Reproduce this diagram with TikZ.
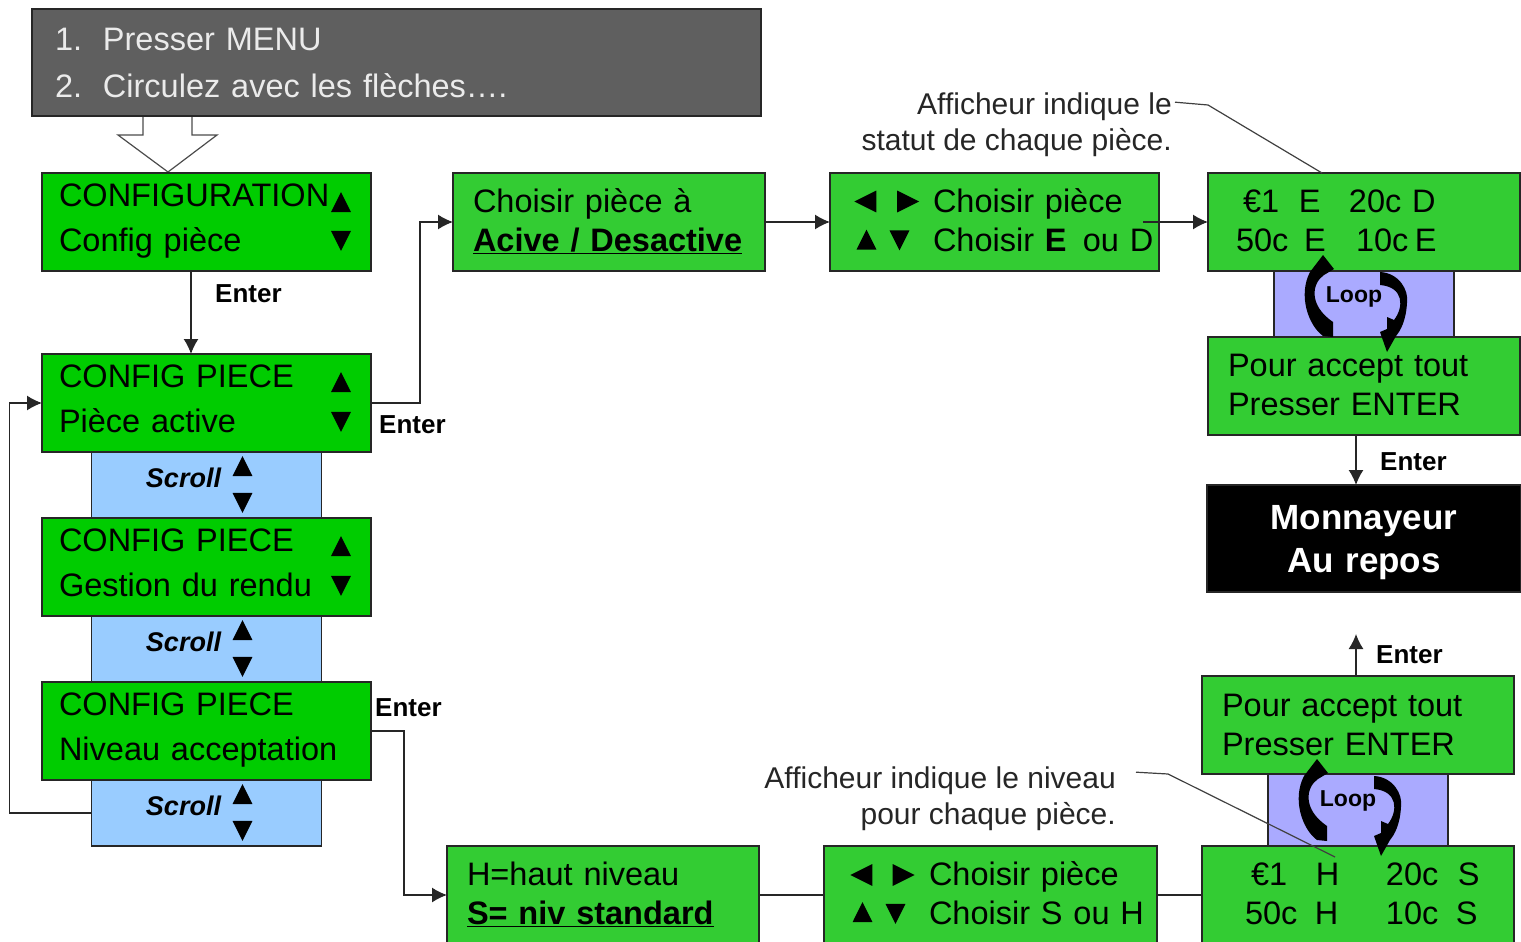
\documentclass[tikz,border=0pt]{standalone}
\usepackage{fontspec}
\setmainfont{Liberation Sans}
\usepackage{tikz}
\usetikzlibrary{arrows.meta,shapes.geometric,positioning}
\definecolor{menugray}{HTML}{5F5F5F}
\definecolor{lcdbright}{HTML}{00CC00}
\definecolor{lcdgreen}{HTML}{33CC33}
\definecolor{scrollblue}{HTML}{99CCFF}
\definecolor{loopblue}{HTML}{AAAAFF}
\newcommand{\lcdat}[2]{\leavevmode\rlap{\hspace*{#1pt}#2}}
\tikzset{
  base/.style={line width=1.4pt, draw=black!85, outer sep=0pt, align=left},
  lcdrule/.style 2 args={execute at begin node={\rule{0pt}{#1pt}}, execute at end node={\rule[-#2pt]{0pt}{#2pt}}},
  lcdfont/.style={font=\fontsize{32.5}{39}\selectfont},
  lcd/.style={base, lcdfont, fill=lcdgreen, inner xsep=20pt, inner ysep=0pt, text width=272pt, minimum height=98pt, lcdrule={28}{8}},
  panel/.style={base, lcdfont, fill=lcdgreen, inner xsep=5pt, inner ysep=0pt, text width=319pt, minimum height=98pt, lcdrule={28}{8}},
  menubox/.style={base, lcdfont, font=\fontsize{32.5}{45}\selectfont, fill=lcdbright, inner xsep=17pt, inner ysep=0pt, text width=295pt, minimum height=98pt, lcdrule={25}{11}},
  startbox/.style={base, font=\fontsize{32.5}{47}\selectfont, text=white!92!black, fill=menugray, inner xsep=23pt, inner ysep=0pt, text width=683pt, minimum height=107pt, lcdrule={30}{7}},
  idlebox/.style={base, font=\fontsize{35}{43}\selectfont\bfseries, text=white, fill=black, align=center, inner xsep=0pt, inner ysep=0pt, text width=314pt, minimum height=107pt, lcdrule={32}{8}},
  scrollbox/.style={base, fill=scrollblue, minimum width=230pt, minimum height=66pt},
  loopbox/.style={base, fill=loopblue, minimum width=180pt},
  scrolltext/.style={font=\fontsize{27}{30}\selectfont\bfseries\itshape, inner sep=0pt},
  looptext/.style={font=\fontsize{23}{26}\selectfont\bfseries, inner sep=0pt},
  enterlabel/.style={font=\fontsize{26}{30}\selectfont\bfseries, inner sep=0pt, anchor=west},
  note/.style={font=\fontsize{30}{36}\selectfont, align=right, inner sep=0pt, text=black!85},
  tipmark/.style={isosceles triangle, isosceles triangle apex angle=53, fill=black, inner sep=0pt, minimum height=20pt},
  upmark/.style={tipmark, shape border rotate=90},
  downmark/.style={tipmark, shape border rotate=-90},
  leftmark/.style={tipmark, minimum height=22pt, shape border rotate=180},
  rightmark/.style={tipmark, minimum height=22pt, shape border rotate=0},
  wire/.style={-{Latex[length=15pt,width=15pt]}, line width=1.4pt, draw=black!85},
  plainwire/.style={line width=1.4pt, draw=black!85},
  leader/.style={line width=1.2pt, draw=black!75},
  hollow/.style={line width=1.2pt, draw=black!70, fill=white},
  pics/loopmark/.style={code={
    \fill (-31,-40) -- (-20,-26) -- (-30,-20) .. controls (-42,-12) and (-46,10) .. (-21,27) -- (-21,42) -- (-31,41) .. controls (-46,30) and (-56,0) .. (-44,-23) -- cycle;
    \fill (26,-23) .. controls (45,-22) and (55,-5) .. (53,8) .. controls (52,25) and (47,35) .. (42,41) -- (33,57) -- (26,37) -- (33,34) -- (33,22) -- (40,25) .. controls (50,12) and (50,-8) .. (26,-10) -- cycle;
    \node[looptext] (-label) at (0,2) {Loop};
  }}
}

\begin{document}
\begin{tikzpicture}[x=1pt, y=-1pt]
  \useasboundingbox (0,0) rectangle (1521,942);

  % big hollow arrow from the start box to the menu, under both boxes
  \draw[hollow] (143,116) -- (143,135) -- (118,135) -- (168,172) -- (217,135) -- (192,135) -- (192,116);

  \node[startbox] (start) at (396.5,62.5) {\lcdat{0}{1.}\lcdat{48}{Presser MENU}\\\lcdat{0}{2.}\lcdat{48}{Circulez avec les flèches….}};

  % left column
  \node[menubox] (config) at (206.5,222) {CONFIGURATION\\Config pièce};
  \node[menubox] (piece) at (206.5,403) {CONFIG PIECE\\Pièce active};
  \node[scrollbox, below=0pt of piece] (scrolla) {};
  \node[menubox, below=0pt of scrolla] (rendu) {CONFIG PIECE\\Gestion du rendu};
  \node[scrollbox, below=0pt of rendu] (scrollb) {};
  \node[menubox, below=0pt of scrollb] (niveau) {CONFIG PIECE\\Niveau acceptation};
  \node[scrollbox, below=0pt of niveau] (scrollc) {};

  \node[upmark] (configup) at ([xshift=134.5pt,yshift=16pt]config.center) {};
  \node[downmark] (configdown) at ([xshift=134.5pt,yshift=-15pt]config.center) {};
  \node[upmark] (pieceup) at ([xshift=134.5pt,yshift=17pt]piece.center) {};
  \node[downmark] (piecedown) at ([xshift=134.5pt,yshift=-15pt]piece.center) {};
  \node[upmark] (renduup) at ([xshift=134.5pt,yshift=17pt]rendu.center) {};
  \node[downmark] (rendudown) at ([xshift=134.5pt,yshift=-15pt]rendu.center) {};

  \node[scrolltext] (scrollatext) at ([xshift=-23pt,yshift=7pt]scrolla.center) {Scroll};
  \node[upmark] (scrollaup) at ([xshift=36pt,yshift=15pt]scrolla.center) {};
  \node[downmark] (scrolladown) at ([xshift=36pt,yshift=-14pt]scrolla.center) {};
  \node[scrolltext] (scrollbtext) at ([xshift=-23pt,yshift=7pt]scrollb.center) {Scroll};
  \node[upmark] (scrollbup) at ([xshift=36pt,yshift=15pt]scrollb.center) {};
  \node[downmark] (scrollbdown) at ([xshift=36pt,yshift=-14pt]scrollb.center) {};
  \node[scrolltext] (scrollctext) at ([xshift=-23pt,yshift=7pt]scrollc.center) {Scroll};
  \node[upmark] (scrollcup) at ([xshift=36pt,yshift=15pt]scrollc.center) {};
  \node[downmark] (scrollcdown) at ([xshift=36pt,yshift=-14pt]scrollc.center) {};

  % top row
  \node[lcd] (choix) at (609,222) {Choisir pièce à\\\textbf{\underline{Acive / Desactive}}};
  \node[panel] (select) at (994.5,222) {\lcdat{98}{Choisir pièce}\\\lcdat{98}{Choisir \textbf{E}\, ou D}};
  \node[lcd] (status) at (1364,222) {\lcdat{15}{€1}\lcdat{71}{E}\lcdat{121}{20c D}\\\lcdat{8}{50c}\lcdat{76}{E}\lcdat{128}{10c}\lcdat{187}{E}};
  \node[loopbox, minimum height=66pt, below=0pt of status] (loopa) {};
  \node[lcd, below=0pt of loopa] (accept) {Pour accept tout\\Presser ENTER};
  \node[idlebox, below=50pt of accept] (idle) {Monnayeur\\Au repos};
  \pic (looptop) at (1354,295) {loopmark};

  \node[leftmark] (selectleft) at (869.5,201.5) {};
  \node[rightmark] (selectright) at (904,201.5) {};
  \node[upmark] (selectup) at (866.5,243.5) {};
  \node[downmark] (selectdown) at (899.5,236.5) {};

  % bottom row
  \node[lcd] (niveaux) at (603,895) {H=haut niveau\\\textbf{\underline{S= niv standard}}};
  \node[panel, text width=323pt] (selectb) at (990.5,895) {\lcdat{100}{Choisir pièce}\\\lcdat{100}{Choisir S ou H}};
  \node[lcd] (statusb) at (1358,895) {\lcdat{29}{€1}\lcdat{94}{H}\lcdat{164}{20c}\lcdat{236}{S}\\\lcdat{23}{50c}\lcdat{93}{H}\lcdat{164}{10c}\lcdat{234}{S}};
  \node[loopbox, minimum height=72pt, above=0pt of statusb] (loopb) {};
  \node[lcd, lcdrule={30}{6}, above=0pt of loopb] (acceptb) {Pour accept tout\\Presser ENTER};
  \pic (loopbottom) at (1348,799) {loopmark};

  \node[leftmark] (selectbleft) at (865.5,875) {};
  \node[rightmark] (selectbright) at (899.5,875) {};
  \node[upmark] (selectbup) at (862.5,916) {};
  \node[downmark] (selectbdown) at (895.5,910) {};

  % notes
  \node[note, anchor=north east] (notetop) at (1172,93) {Afficheur indique le\\statut de chaque pièce.};
  \node[note, anchor=north east] (notebottom) at (1116,766.5) {Afficheur indique le niveau\\pour chaque pièce.};
  \coordinate (kneetop) at (1208,105);
  \coordinate (kneebottom) at (1168,774);
  \coordinate (outb) at (1356,634);
  \draw[leader] ([xshift=3pt,yshift=23pt]notetop.east) -- (kneetop) -- ([xshift=-42pt]status.north);
  \draw[leader] ([xshift=20pt,yshift=26.5pt]notebottom.east) -- (kneebottom) -- ([xshift=-23pt,yshift=-11pt]statusb.north);

  % connectors
  \draw[wire] ([xshift=-15.5pt]config.south) -- ([xshift=-15.5pt]piece.north);
  \draw[wire] (piece.east) -- ++(49,0) |- (choix.west);
  \draw[wire] (choix.east) -- (select.west);
  \draw[wire] ([xshift=-16pt]select.east) -- (status.west);
  \draw[wire] ([xshift=-8pt]accept.south) -- ([xshift=-8pt,yshift=0pt]accept.south |- idle.north);
  \draw[wire] (niveau.east) -- ++(33,0) |- (niveaux.west);
  \draw[plainwire] (niveaux.east) -- (selectb.west);
  \draw[plainwire] (selectb.east) -- (statusb.west);
  \draw[wire] (acceptb.north -| outb) -- (outb);
  \draw[wire] (scrollc.west) -- ++(-82,0) |- (piece.west);

  \node[enterlabel] (entera) at (215,294) {Enter};
  \node[enterlabel] (enterb) at (379,425) {Enter};
  \node[enterlabel] (enterc) at (375,708) {Enter};
  \node[enterlabel] (enterd) at (1380,462) {Enter};
  \node[enterlabel] (entere) at (1376,655) {Enter};
\end{tikzpicture}
\end{document}
